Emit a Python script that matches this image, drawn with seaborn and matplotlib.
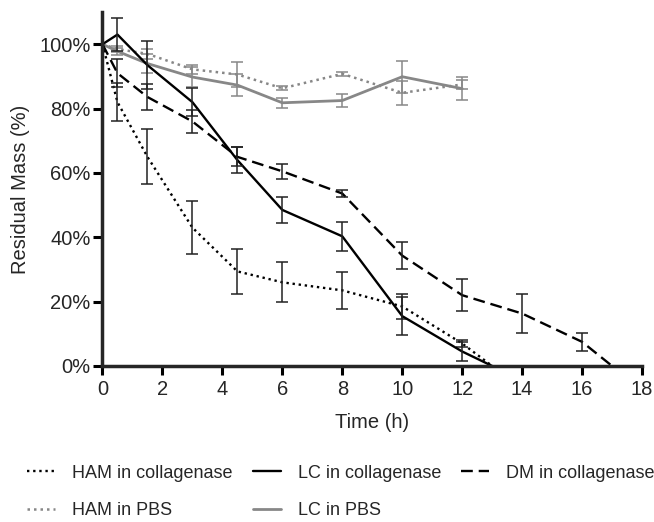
import numpy as np
import pandas as pd
import matplotlib
matplotlib.use("Agg")
import matplotlib.pyplot as plt
from matplotlib.ticker import PercentFormatter
import seaborn as sns

# Data (residual mass in %, mean and error)
t_ham_col = [0, 0.5, 1.5, 3, 4.5, 6, 8, 10, 12, 13]
ham_col = [100, 82, 65, 43, 29.4, 26, 23.5, 18.5, 7, 0]
ham_col_err = [0, 6, 8.5, 8.2, 7, 6.2, 5.7, 4, 1, 0]

t_lc_col = [0, 0.5, 1.5, 3, 4.5, 6, 8, 10, 12, 13]
lc_col = [100, 103, 93.5, 82, 64, 48.5, 40.3, 15.5, 4.5, 0]
lc_col_err = [0, 5, 7.5, 4.3, 4, 4, 4.6, 6, 3, 0]

t_dm_col = [0, 0.5, 1.5, 3, 4.5, 6, 8, 10, 12, 14, 16, 17]
dm_col = [100, 91, 83.6, 76, 65, 60.5, 53.6, 34.3, 22, 16.3, 7.5, 0]
dm_col_err = [0, 4.4, 4, 3.5, 3, 2.4, 1, 4.2, 5, 6, 2.8, 0]

t_pbs = [0, 0.5, 1.5, 3, 4.5, 6, 8, 10, 12]
ham_pbs = [100, 98.5, 97, 92.2, 90.6, 86.3, 90.8, 84.9, 87.5]
ham_pbs_err = [0, 1, 1.5, 1.5, 4, 0.6, 0.7, 3.7, 1.5]
lc_pbs = [100, 97.8, 94, 89.8, 87.3, 81.8, 82.5, 89.9, 86.2]
lc_pbs_err = [0, 1, 3, 3, 3.5, 1.5, 2, 5, 3.5]

GRAY = "#878787"

sns.set_style("ticks")
plt.rcParams["font.family"] = ["Liberation Sans", "DejaVu Sans"]

fig = plt.figure(figsize=(6.54, 5.22), dpi=100)
ax = fig.add_axes([0.1567, 0.2989, 0.825, 0.678])

series = [
    ("HAM in PBS", t_pbs, ham_pbs, ham_pbs_err, GRAY, (0, (1, 1.6)), 1.8),
    ("LC in PBS", t_pbs, lc_pbs, lc_pbs_err, GRAY, "-", 2.0),
    ("HAM in collagenase", t_ham_col, ham_col, ham_col_err, "black", (0, (1, 1.6)), 1.7),
    ("LC in collagenase", t_lc_col, lc_col, lc_col_err, "black", "-", 1.7),
    ("DM in collagenase", t_dm_col, dm_col, dm_col_err, "black", (0, (5, 2.5)), 1.7),
]

for label, t, v, e, col, ls, lw in series:
    df = pd.DataFrame({"Time": t, "Mass": v, "Err": e})
    sns.lineplot(data=df, x="Time", y="Mass", color=col, linestyle=ls,
                 linewidth=lw, label=label, ax=ax, clip_on=False)
    # error bars only where there is an error value
    sub = df[df["Err"] > 0]
    ax.errorbar(sub["Time"], sub["Mass"], yerr=sub["Err"], fmt="none",
                ecolor=col if col == GRAY else "#222222",
                elinewidth=1.1, capsize=4.5, capthick=1.1)

if ax.get_legend() is not None:
    ax.get_legend().remove()

ax.set_xlim(0, 18)
ax.set_ylim(0, 110)
ax.set_xticks(np.arange(0, 19, 2))
ax.set_yticks(np.arange(0, 101, 20))
ax.yaxis.set_major_formatter(PercentFormatter(decimals=0))

sns.despine(ax=ax)
for side in ["left", "bottom"]:
    ax.spines[side].set_linewidth(2.5)
ax.tick_params(axis="both", length=6.5, width=2.2, labelsize=14.5, color="black")
ax.tick_params(axis="y", pad=2)
ax.tick_params(axis="x", pad=3.5)

ax.set_xlabel("Time (h)", fontsize=14.5, labelpad=10)
ax.set_ylabel("Residual Mass (%)", fontsize=14.5, labelpad=7)

handles, labels = ax.get_legend_handles_labels()
order = ["HAM in collagenase", "HAM in PBS", "LC in collagenase", "LC in PBS", "DM in collagenase"]
hmap = dict(zip(labels, handles))
fig.legend([hmap[k] for k in order], order, ncol=3, loc="center",
           bbox_to_anchor=(341 / 654, 0.0575), frameon=False, fontsize=13,
           handlelength=1.55, handletextpad=0.95, columnspacing=1.1,
           labelspacing=1.15)

fig.savefig("out.png", dpi=100)
